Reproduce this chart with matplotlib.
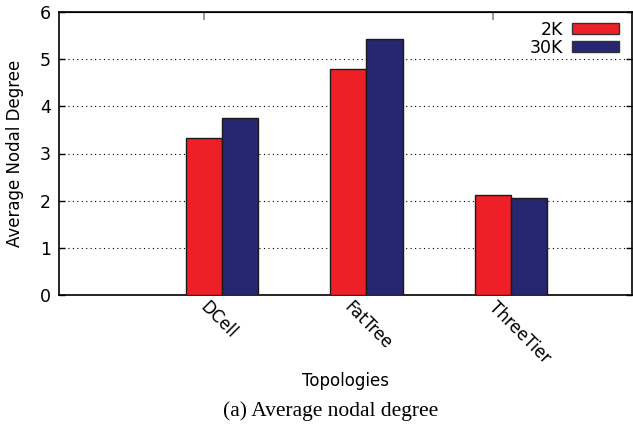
import matplotlib
matplotlib.use("Agg")
import matplotlib.pyplot as plt
import matplotlib.transforms as mtransforms
from matplotlib.patches import Patch
import numpy as np

topologies = ["DCell", "FatTree", "ThreeTier"]
deg_2k = [3.32, 4.79, 2.12]
deg_30k = [3.75, 5.43, 2.05]
series_names = ["2K", "30K"]

RED = "#ee1f26"
BLUE = "#262770"

plt.rcParams['font.family'] = ['DejaVu Sans']

fig = plt.figure(figsize=(6.33, 4.30), dpi=100)
ax = fig.add_axes([59 / 633, 1 - 295 / 430, (632 - 59) / 633, (295 - 12) / 430])

x = np.arange(len(topologies))
w = 0.25
ax.bar(x - w / 2, deg_2k, w, color=RED, edgecolor="#1a1a1a", lw=1.0, zorder=3)
ax.bar(x + w / 2, deg_30k, w, color=BLUE, edgecolor="#1a1a1a", lw=1.0, zorder=3)

ax.set_xlim(-1.125, 2.835)
ax.set_ylim(0, 6)
ax.set_yticks(range(0, 7))
ax.tick_params(axis='y', direction='in', length=4, width=1, left=True, right=True,
               labelsize=12.5, pad=6)
ax.grid(axis='y', linestyle=(0, (1, 3)), color='black', lw=0.8, zorder=0)

ax.set_xticks(x)
ax.set_xticklabels(topologies, rotation=-45, ha='left', va='top',
                   rotation_mode='anchor', fontsize=12)
ax.tick_params(axis='x', length=0, pad=2)
shift = mtransforms.ScaledTranslation(-13 / 100, 0, fig.dpi_scale_trans)
for lbl in ax.get_xticklabels():
    lbl.set_transform(lbl.get_transform() + shift)

top = ax.secondary_xaxis('top')
top.set_xticks([-0.125, 1.875])
top.set_xticklabels([])
top.tick_params(direction='in', length=6, width=1.2, color='#888888')

for sp in ax.spines.values():
    sp.set_linewidth(1.2)

handles = [Patch(facecolor=RED, edgecolor="#333333", lw=1),
           Patch(facecolor=BLUE, edgecolor="#333333", lw=1)]
ax.legend(handles, series_names, loc='upper right', frameon=False, markerfirst=False,
          bbox_to_anchor=(1 + 1 / 573, 1 + 5 / 283),
          fontsize=12.5, handlelength=2.7, handleheight=0.6, labelspacing=0.0,
          handletextpad=0.5, borderaxespad=0.5, borderpad=0.3)

fig.text(15 / 633, 1 - 153 / 430, "Average Nodal Degree", rotation=90,
         ha='center', va='center', fontsize=12)
fig.text(345 / 633, 1 - 381 / 430, "Topologies", ha='center', va='center', fontsize=12)
fig.text(331 / 633, 1 - 411 / 430, "(a) Average nodal degree", ha='center', va='center',
         fontsize=15.5, family=['Liberation Serif'])

fig.savefig("out.png", dpi=100)
